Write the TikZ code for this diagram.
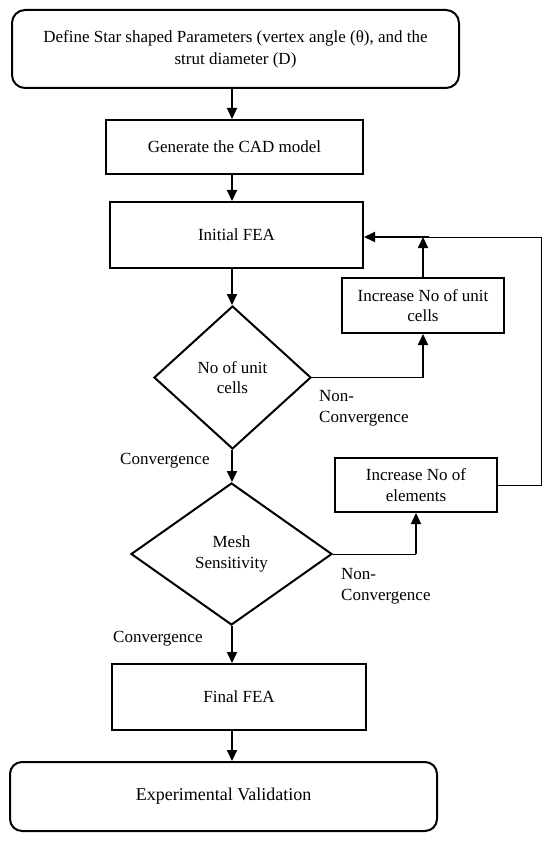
\documentclass[tikz,border=0pt]{standalone}
\usepackage{fontspec}
\setmainfont{Liberation Serif}
\usetikzlibrary{arrows.meta,shapes.geometric}
\begin{document}
\begin{tikzpicture}[x=1pt,y=-1pt,
  txt/.style={font=\fontsize{17}{20.5}\selectfont},
  box/.style={draw, line width=2pt, rectangle, inner sep=0pt, align=center, txt},
  rbox/.style={box, rounded corners=13pt},
  dia/.style={draw, line width=2pt, diamond, inner sep=0pt, align=center, txt},
  arr/.style={line width=2pt, -{Triangle[length=11pt,width=10pt]}},
  thinline/.style={line width=1pt},
  lbl/.style={inner sep=0pt, align=left, txt}]
\useasboundingbox (0,0) rectangle (550,842);
\fill[white] (0,0) rectangle (550,842);
\coordinate (col) at (232,0);

\node[rbox, minimum width=447pt, minimum height=78pt, font=\fontsize{17}{22}\selectfont] (def) at (235.5,49)
  {Define Star shaped Parameters (vertex angle (θ), and the\\strut diameter (D)};
\node[box, minimum width=257pt, minimum height=54pt] (cad) at (234.5,147) {Generate the CAD model};
\node[box, minimum width=253pt, minimum height=66pt] (init) at (236.5,235) {Initial FEA};
\node[dia, minimum width=157pt, minimum height=143pt] (d1) at (232.5,377.5) {No of unit\\cells};
\node[box, minimum width=162pt, minimum height=55pt] (inc1) at (423,305.5) {Increase No of unit\\cells};
\node[dia, minimum width=201pt, minimum height=142pt] (d2) at (231.5,554) {Mesh\\Sensitivity};
\node[box, minimum width=162pt, minimum height=54pt] (inc2) at (416,485) {Increase No of\\elements};
\node[box, minimum width=254pt, minimum height=66pt] (final) at (239,697) {Final FEA};
\node[rbox, rounded corners=12pt, minimum width=427pt, minimum height=69pt, font=\fontsize{18}{21}\selectfont] (exp) at (223.5,796.5) {Experimental Validation};

\node[lbl, anchor=base west] (nc1) at (319,422) {Non-\\Convergence};
\node[lbl, anchor=base west] (nc2) at (341,600) {Non-\\Convergence};
\node[lbl, anchor=base west] (cv1) at (120,464) {Convergence};
\node[lbl, anchor=base west] (cv2) at (113,642) {Convergence};

\draw[arr] (def.south -| col) -- (cad.north -| col);
\draw[arr] (cad.south -| col) -- (init.north -| col);
\draw[arr] (init.south -| col) -- (d1.north -| col);
\draw[arr] (d1.south -| col) -- (d2.north -| col);
\draw[arr] (d2.south -| col) -- (final.north -| col);
\draw[arr] (final.south -| col) -- (exp.north -| col);

\coordinate (j1) at (inc1.south |- d1.east);
\coordinate (j2) at (423,237);
\coordinate (j3) at (541,237);
\coordinate (j4) at (j3 |- inc2.east);
\coordinate (j5) at (inc2.south |- d2.east);

\draw[thinline] (d1.east) -- (j1);
\draw[arr] (j1) -- (inc1.south);
\draw[arr] (inc1.north) -- (j2);
\draw[thinline] (inc2.east) -- (j4) -- (j3) -- (j2);
\draw[arr] ([xshift=6pt]j2) -- (j2 -| init.east);
\draw[thinline] (d2.east) -- (j5);
\draw[arr] (j5) -- (inc2.south);
\end{tikzpicture}
\end{document}
